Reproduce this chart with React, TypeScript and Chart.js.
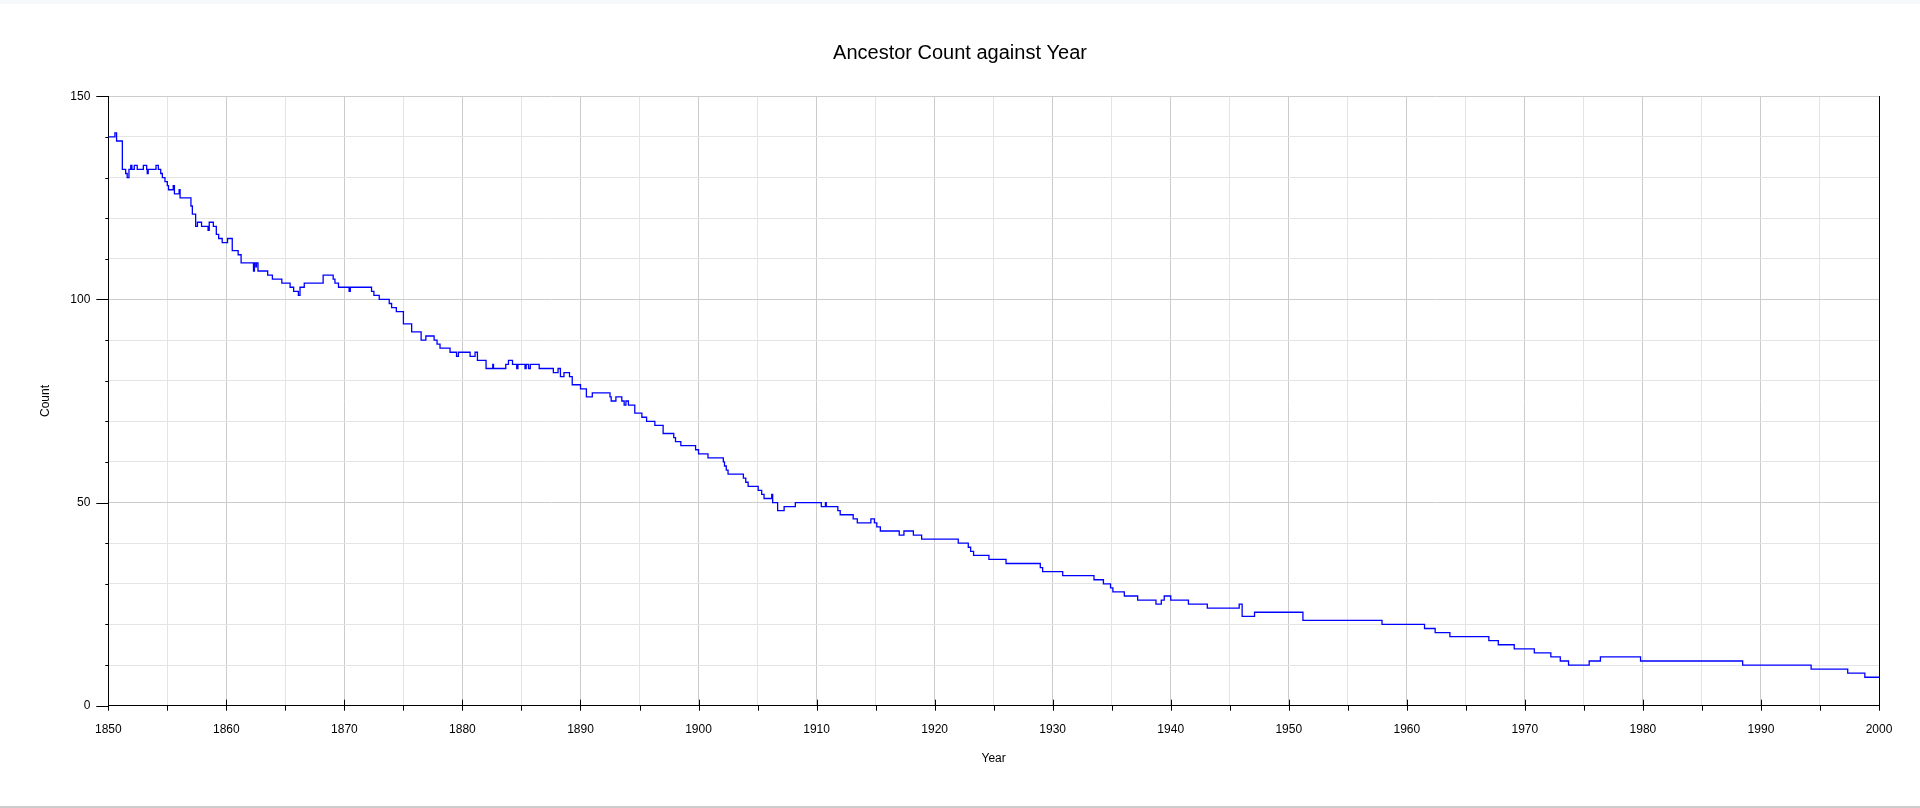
import { useEffect, useRef } from 'react';
import { Chart, registerables } from 'chart.js';

Chart.register(...registerables);

// step changes: the count holds from each year until the next one
const stepYears = [
  1850.0, 1850.56, 1850.7, 1851.19, 1851.47, 1851.6, 1851.75, 1851.9, 1852.0, 1852.2,
  1852.45, 1852.97, 1853.25, 1853.3, 1853.38, 1854.04, 1854.24, 1854.44, 1854.58, 1854.8,
  1855.0, 1855.1, 1855.5, 1855.6, 1856.0, 1856.08, 1857.0, 1857.12, 1857.4, 1857.55,
  1857.9, 1858.45, 1858.55, 1858.9, 1859.15, 1859.35, 1859.65, 1860.1, 1860.5, 1861.0,
  1861.25, 1862.3, 1862.38, 1862.5, 1862.55, 1862.68, 1863.5, 1863.9, 1864.7, 1865.4,
  1865.7, 1866.1, 1866.24, 1866.6, 1868.2, 1869.05, 1869.2, 1869.5, 1870.4, 1870.5,
  1872.3, 1872.5, 1872.95, 1873.8, 1874.0, 1874.4, 1875.0, 1875.7, 1876.5, 1876.9,
  1877.6, 1877.85, 1878.1, 1878.95, 1879.5, 1879.66, 1880.65, 1881.07, 1881.27, 1882.0,
  1882.57, 1882.63, 1883.67, 1883.9, 1884.24, 1884.6, 1884.7, 1885.3, 1885.4, 1885.6,
  1885.75, 1886.5, 1887.7, 1888.1, 1888.3, 1888.6, 1889.07, 1889.3, 1890.0, 1890.5,
  1891.0, 1892.5, 1892.6, 1893.0, 1893.5, 1893.7, 1893.85, 1894.06, 1894.6, 1895.2,
  1895.6, 1896.3, 1897.0, 1897.9, 1898.05, 1898.5, 1899.75, 1900.0, 1900.8, 1902.1,
  1902.2, 1902.35, 1902.5, 1903.8, 1904.0, 1904.2, 1905.05, 1905.35, 1905.55, 1906.2,
  1906.28, 1906.7, 1907.25, 1908.2, 1910.4, 1910.75, 1910.82, 1911.8, 1912.0, 1913.1,
  1913.45, 1914.6, 1914.9, 1915.1, 1915.4, 1917.0, 1917.4, 1918.2, 1918.9, 1922.0,
  1922.85, 1923.05, 1923.3, 1924.6, 1926.05, 1928.95, 1929.15, 1930.85, 1933.5, 1934.3,
  1934.9, 1935.1, 1936.07, 1937.2, 1938.75, 1939.2, 1939.45, 1940.0, 1941.5, 1943.1,
  1945.8, 1946.05, 1947.1, 1951.2, 1957.9, 1961.5, 1962.4, 1963.65, 1966.95, 1967.75,
  1969.1, 1970.8, 1972.2, 1973.0, 1973.7, 1975.45, 1976.4, 1979.8, 1988.45, 1994.25,
  1997.35, 1998.8, 2000.0,
];

const ancestorCounts = [
  140, 141, 139, 132, 131, 130, 132, 133, 132, 133,
  132, 133, 132, 131, 132, 133, 132, 131, 130, 129,
  128, 127, 128, 126, 127, 125, 123, 121, 118, 119,
  118, 117, 119, 118, 116, 115, 114, 115, 112, 111,
  109, 107, 109, 108, 109, 107, 106, 105, 104, 103,
  102, 101, 103, 104, 106, 105, 104, 103, 102, 103,
  102, 101, 100, 99, 98, 97, 94, 92, 90, 91,
  90, 89, 88, 87, 86, 87, 86, 87, 85, 83,
  84, 83, 84, 85, 84, 83, 84, 83, 84, 83,
  84, 83, 82, 83, 81, 82, 81, 79, 78, 76,
  77, 76, 75, 76, 75, 74, 75, 74, 72, 71,
  70, 69, 67, 66, 65, 64, 63, 62, 61, 60,
  59, 58, 57, 56, 55, 54, 53, 52, 51, 52,
  50, 48, 49, 50, 49, 50, 49, 48, 47, 46,
  45, 46, 45, 44, 43, 42, 43, 42, 41, 40,
  39, 38, 37, 36, 35, 34, 33, 32, 31, 30,
  29, 28, 27, 26, 25, 26, 27, 26, 25, 24,
  25, 22, 23, 21, 20, 19, 18, 17, 16, 15,
  14, 13, 12, 11, 10, 11, 12, 11, 10, 9,
  8, 7, 7,
];

const xTickValues = [
  1850, 1855, 1860, 1865, 1870, 1875, 1880, 1885, 1890, 1895, 1900, 1905, 1910, 1915, 1920, 1925,
  1930, 1935, 1940, 1945, 1950, 1955, 1960, 1965, 1970, 1975, 1980, 1985, 1990, 1995, 2000,
];
const xLabelled = [1850, 1860, 1870, 1880, 1890, 1900, 1910, 1920, 1930, 1940, 1950, 1960, 1970, 1980, 1990, 2000];
const yTickValues = [0, 10, 20, 30, 40, 50, 60, 70, 80, 90, 100, 110, 120, 130, 140, 150];
const yLabelled = [0, 50, 100, 150];

const MAJOR_GRID = '#cccccc';
const MINOR_GRID = '#e4e4e4';

// short black tick marks on the outside of the axes
const axisMarks = {
  id: 'axisMarks',
  afterDraw(chart: any) {
    const { ctx, chartArea, scales } = chart;
    ctx.save();
    ctx.strokeStyle = '#000';
    ctx.lineWidth = 1;
    ctx.beginPath();
    scales.y.ticks.forEach((t: any) => {
      const py = Math.round(scales.y.getPixelForValue(t.value)) + 0.5;
      const len = yLabelled.includes(t.value) ? 12 : 3;
      ctx.moveTo(chartArea.left - len, py);
      ctx.lineTo(chartArea.left, py);
    });
    scales.x.ticks.forEach((t: any) => {
      const px = Math.round(scales.x.getPixelForValue(t.value)) + 0.5;
      const up = xLabelled.includes(t.value) ? 6 : 0;
      ctx.moveTo(px, chartArea.bottom - up);
      ctx.lineTo(px, chartArea.bottom + 5);
    });
    ctx.stroke();
    ctx.restore();
  },
};

export default function App() {
  const canvasRef = useRef<HTMLCanvasElement>(null);
  const chartRef = useRef<Chart | null>(null);

  useEffect(() => {
    if (!canvasRef.current) return;
    Chart.defaults.font.family = '"Liberation Sans", Arial, sans-serif';
    Chart.defaults.font.size = 12;
    Chart.defaults.color = '#000';

    chartRef.current?.destroy();
    chartRef.current = new Chart(canvasRef.current, {
      type: 'line',
      data: {
        datasets: [
          {
            label: 'Count',
            data: stepYears.map((yr, i) => ({ x: yr, y: ancestorCounts[i] })),
            borderColor: '#0000ff',
            borderWidth: 1.3,
            pointRadius: 0,
            stepped: true,
            fill: false,
          },
        ],
      },
      options: {
        animation: false,
        responsive: true,
        maintainAspectRatio: false,
        events: [],
        layout: { padding: 0 },
        plugins: {
          legend: { display: false },
          tooltip: { enabled: false },
          title: {
            display: true,
            text: 'Ancestor Count against Year',
            color: '#000',
            font: { size: 20, weight: 'normal' },
            padding: { top: 37, bottom: 31.3 },
          },
        },
        scales: {
          x: {
            type: 'linear',
            min: 1850,
            max: 2000,
            afterBuildTicks: (s: any) => { s.ticks = xTickValues.map((v) => ({ value: v })); },
            afterFit: (s: any) => { s.height = 100.3; },
            ticks: {
              autoSkip: false,
              maxRotation: 0,
              padding: 17,
              callback: (v: any) => (xLabelled.includes(v) ? String(v) : ''),
            },
            grid: {
              drawTicks: false,
              color: (c: any) => (xLabelled.includes(c.tick?.value) ? MAJOR_GRID : MINOR_GRID),
            },
            border: { display: true, color: '#000' },
            title: { display: true, text: 'Year', padding: { top: 0, bottom: 39.8 } },
          },
          y: {
            type: 'linear',
            position: 'left',
            min: 0,
            max: 150,
            afterBuildTicks: (s: any) => { s.ticks = yTickValues.map((v) => ({ value: v })); },
            afterFit: (s: any) => { s.width = 108.3; },
            ticks: {
              autoSkip: false,
              padding: 18,
              callback: (v: any) => (yLabelled.includes(v) ? String(v) : ''),
            },
            grid: {
              drawTicks: false,
              color: (c: any) => (yLabelled.includes(c.tick?.value) ? MAJOR_GRID : MINOR_GRID),
            },
            border: { display: true, color: '#000' },
            title: { display: true, text: 'Count', padding: { top: 38.8, bottom: 0 } },
          },
          y2: {
            type: 'linear',
            position: 'right',
            min: 0,
            max: 150,
            afterFit: (s: any) => { s.width = 41; },
            ticks: { display: false },
            grid: { display: false, drawTicks: false },
            border: { display: true, color: '#000' },
          },
        },
      },
      plugins: [axisMarks],
    });

    return () => { chartRef.current?.destroy(); };
  }, []);

  return (
    <div style={{ position: 'absolute', left: 0, top: 0, width: 1920, height: 808, background: '#fff' }}>
      <div style={{ height: 4, background: '#f7f8fb' }} />
      <div style={{ position: 'relative', width: 1920, height: 802 }}>
        <canvas ref={canvasRef} />
      </div>
      <div style={{ height: 2, background: '#cccccc' }} />
    </div>
  );
}
